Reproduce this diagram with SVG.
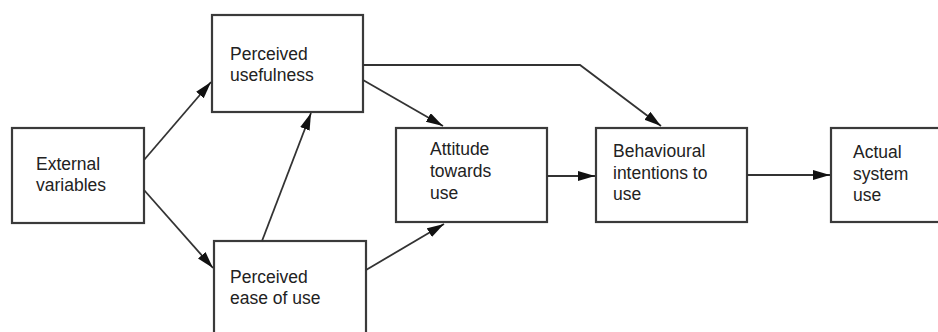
<svg xmlns="http://www.w3.org/2000/svg" width="938" height="332" viewBox="0 0 938 332">
<style>
.box{fill:#fff;stroke:#3a3a3a;stroke-width:2.2}
.lbl{font-family:"Liberation Sans",Arial,sans-serif;font-size:17.5px;fill:#222}
.con{fill:none;stroke:#333;stroke-width:1.8}
</style>
<defs>
<marker id="ah" markerUnits="userSpaceOnUse" markerWidth="18" markerHeight="11" refX="17" refY="5" orient="auto">
<path d="M0,0 L17,5 L0,10 z" fill="#111"/>
</marker>
</defs>
<rect width="938" height="332" fill="#fff"/>
<g id="ext"><rect class="box" x="12" y="128" width="132" height="95"/><text class="lbl" x="36" y="170">External</text><text class="lbl" x="36" y="191">variables</text></g>
<g id="pu"><rect class="box" x="212" y="15" width="151" height="97"/><text class="lbl" x="230" y="60">Perceived</text><text class="lbl" x="230" y="81">usefulness</text></g>
<g id="peou"><rect class="box" x="214" y="241" width="152" height="110"/><text class="lbl" x="230" y="283">Perceived</text><text class="lbl" x="230" y="304">ease of use</text></g>
<g id="att"><rect class="box" x="396" y="128" width="151" height="94"/><text class="lbl" x="430" y="155">Attitude</text><text class="lbl" x="430" y="177">towards</text><text class="lbl" x="430" y="199">use</text></g>
<g id="bi"><rect class="box" x="596" y="128" width="151" height="94"/><text class="lbl" x="613" y="157">Behavioural</text><text class="lbl" x="613" y="179">intentions to</text><text class="lbl" x="613" y="200">use</text></g>
<g id="asu"><rect class="box" x="831" y="128" width="120" height="94"/><text class="lbl" x="853" y="158">Actual</text><text class="lbl" x="853" y="180">system</text><text class="lbl" x="853" y="201">use</text></g>
<g id="connectors">
<line class="con" x1="144" y1="160" x2="211" y2="82" marker-end="url(#ah)"/>
<line class="con" x1="144" y1="190" x2="213" y2="268" marker-end="url(#ah)"/>
<line class="con" x1="262" y1="241" x2="311" y2="113" marker-end="url(#ah)"/>
<line class="con" x1="363" y1="80" x2="443" y2="126" marker-end="url(#ah)"/>
<line class="con" x1="366" y1="270" x2="444" y2="224" marker-end="url(#ah)"/>
<polyline class="con" points="363,65 580,65 661,126" marker-end="url(#ah)"/>
<line class="con" x1="547" y1="176" x2="595" y2="176" marker-end="url(#ah)"/>
<line class="con" x1="747" y1="175" x2="830" y2="175" marker-end="url(#ah)"/>
</g>
</svg>
